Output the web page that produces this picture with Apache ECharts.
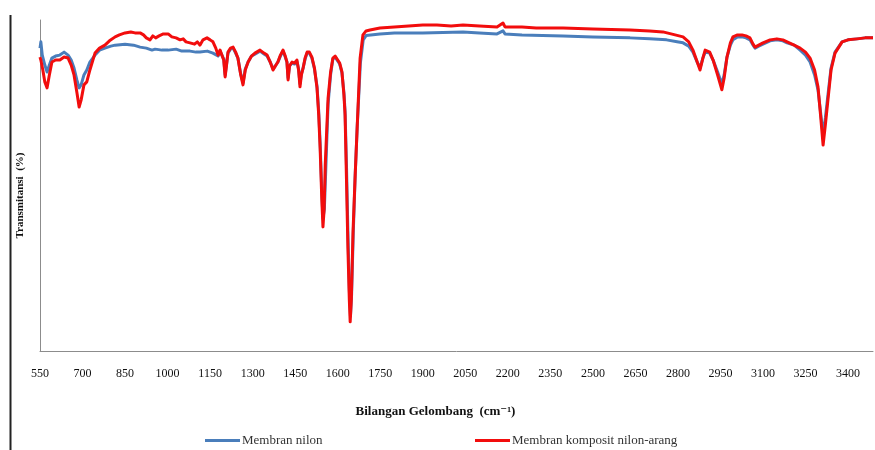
<!DOCTYPE html>
<html>
<head>
<meta charset="utf-8">
<script src="https://cdn.jsdelivr.net/npm/echarts@6/dist/echarts.min.js"></script>
<style>html,body{margin:0;padding:0;background:#fff}#c{width:875px;height:450px}</style>
</head>
<body>
<div id="c"></div>
<script>
// Tick labels (wavenumber, cm-1)
const xTicks = [550,700,850,1000,1150,1300,1450,1600,1750,1900,2050,2200,2350,2500,2650,2800,2950,3100,3250,3400];

const seriesNames = ['Membran nilon', 'Membran komposit nilon-arang'];

// Membran nilon (blue)
const wnBlue = [550,553,558,567,575,583,592,605,620,635,649,660,670,680,688,695,705,715,726,744,760,779,800,815,850,880,903,925,945,956,980,1002,1030,1050,1079,1100,1114,1140,1160,1178,
1185,1192,1198,1203,1208,1213,1222,1231,1240,1248,1258,1266,1274,1284,1296,1308,1326,1340,1351,1362,1372,1380,1389,1398,1407,1415,1421,1425,1430,1439,1448,1456,1462,1467,1472,1478,1485,1492,1500,1509,1518,1527,1533,1538,1544,1548,1553,1558,1566,1575,1583,1591,1598,1607,1615,1622,1626,1631,1636,1641,1645,1649,1655,1662,1669,1680,1690,1700,
1749,1800,1900,2042,2100,2162,2183,2190,2250,2395,2500,2631,2700,2760,2797,2818,2838,2853,2868,2878,2888,2896,2912,2924,2940,2955,2963,2973,2985,2994,3010,3026,3040,3054,3065,3072,3085,3100,3125,3149,3170,3185,3210,3231,3250,3266,3282,3294,3303,3312,3320,3329,3340,3354,3379,3400,3432,3460,3488];
const tBlue = [91.5,93.4,89.4,86.4,84.3,86.4,88.5,89.1,89.4,90.3,89.4,87.9,85.5,81.9,79.5,80.4,83.4,84.9,87.3,89.4,90.9,91.5,92.1,92.4,92.7,92.4,91.8,91.5,90.9,91.2,90.9,90.9,91.2,90.6,90.6,90.3,90.3,90.6,90.0,89.1,
90.6,91.2,88.2,83.4,86.7,90.0,91.2,91.5,90.0,88.5,83.7,81.0,85.2,87.3,89.1,89.7,90.6,89.7,89.1,87.3,85.2,86.1,87.3,89.1,90.6,88.8,87.3,82.5,86.1,87.0,86.7,87.6,85.2,80.7,83.7,85.5,88.2,90.0,90.0,88.5,85.2,80.0,72.5,63.0,48.0,40.0,43.0,55.0,74.5,83.5,88.2,88.8,88.5,86.7,84.0,78.0,72.5,56.0,36.0,18.5,10.5,17.0,36.0,54.0,68.0,87.0,94.0,95.3,
95.8,96.1,96.1,96.4,96.1,95.8,96.7,95.8,95.5,95.2,94.9,94.6,94.3,94.0,93.4,93.1,92.1,90.3,87.3,85.5,88.5,90.3,90.0,87.9,84.3,80.7,83.4,88.8,92.4,94.0,94.9,94.9,94.6,94.0,92.4,91.5,92.1,92.7,93.7,94.0,93.7,93.1,92.4,90.9,89.4,87.3,83.4,78.9,72.2,65.3,70.4,77.3,85.5,90.3,93.4,94.0,94.3,94.6,94.6];

// Membran komposit nilon-arang (red)
const wnRed = [550,553,560,567,575,583,592,605,620,635,649,660,670,680,688,695,705,715,726,744,760,779,795,815,830,850,870,885,903,915,925,938,948,958,970,985,1002,1015,1030,1044,1055,1065,1079,1095,1105,1114,1125,1139,1150,1160,1170,1178,
1185,1192,1198,1203,1208,1213,1222,1231,1240,1248,1258,1266,1274,1284,1296,1308,1326,1340,1351,1362,1372,1380,1389,1398,1407,1415,1421,1425,1430,1439,1448,1456,1462,1467,1472,1478,1485,1492,1500,1509,1518,1527,1533,1538,1544,1548,1552,1556,1566,1575,1583,1591,1598,1607,1615,1622,1626,1631,1636,1641,1644,1648,1654,1661,1668,1679,1689,1700,1714,
1749,1800,1850,1900,1950,2000,2042,2100,2162,2183,2190,2250,2300,2395,2500,2631,2700,2747,2790,2818,2838,2853,2868,2878,2888,2896,2912,2924,2940,2955,2963,2973,2985,2994,3010,3026,3040,3054,3065,3072,3085,3100,3125,3149,3170,3185,3210,3231,3250,3266,3282,3294,3303,3312,3320,3329,3340,3354,3379,3400,3432,3460,3488];
const tRed = [88.8,87.9,84.9,81.3,79.5,83.4,87.3,87.9,87.9,88.8,88.5,86.4,83.4,78.2,73.7,75.8,80.4,81.3,84.9,90.0,91.5,92.4,93.7,94.9,95.5,96.1,96.4,96.1,96.1,95.5,94.6,94.0,95.2,94.6,95.2,95.8,95.8,94.9,94.6,94.0,94.3,93.4,93.1,92.7,93.4,92.4,94.0,94.6,94.0,93.4,91.5,89.4,
90.9,91.5,87.9,82.8,86.4,90.3,91.5,91.8,90.3,88.5,83.4,80.4,84.9,87.3,89.1,90.0,90.9,90.0,89.4,87.3,84.9,86.1,87.3,89.4,90.9,89.1,87.3,81.9,86.1,87.3,87.0,87.9,84.9,79.8,83.4,85.5,88.5,90.3,90.3,88.8,85.5,79.5,71.3,61.3,45.6,37.5,42.6,56.2,76.3,84.3,88.5,89.1,88.8,87.0,84.3,77.3,71.3,51.7,31.1,15.4,8.8,15.4,36.0,51.7,66.2,88.5,95.5,96.7,97.0,
97.6,97.9,98.2,98.5,98.5,98.2,98.5,98.2,97.9,99.1,97.9,97.9,97.6,97.6,97.3,97.0,96.7,96.4,95.5,94.9,93.4,90.9,87.3,84.9,88.5,90.9,90.3,87.9,83.4,78.9,82.5,88.8,93.1,94.9,95.5,95.5,95.2,94.6,92.7,91.8,92.4,93.1,94.0,94.3,94.0,93.4,92.4,91.5,90.3,88.5,84.9,79.8,71.3,62.2,68.3,75.8,84.9,90.0,93.4,94.0,94.3,94.6,94.6];

const chart = echarts.init(document.getElementById('c'), null, {renderer: 'canvas'});
const serif = '"Liberation Serif", "DejaVu Serif", serif';

chart.setOption({
  animation: false,
  backgroundColor: '#fff',
  grid: {left: 40, right: 2, top: 20, bottom: 99, containLabel: false},
  xAxis: {
    type: 'value', min: 550, max: 3488,
    axisLine: {show: true, lineStyle: {color: '#8c8c8c', width: 1}},
    axisTick: {show: false},
    splitLine: {show: false},
    axisLabel: {customValues: xTicks, formatter: v => String(v), color: '#111', fontFamily: serif, fontSize: 12, margin: 17},
    name: 'Bilangan Gelombang  (cm\u207B\u00B9)',
    nameLocation: 'middle', nameGap: 54,
    nameTextStyle: {color: '#111', fontFamily: serif, fontSize: 13, fontWeight: 'bold', padding: [0, 42, 0, 0]}
  },
  yAxis: {
    type: 'value', min: 0, max: 100,
    axisLine: {show: true, lineStyle: {color: '#8c8c8c', width: 1}},
    axisTick: {show: false},
    axisLabel: {show: false},
    splitLine: {show: false},
    name: 'Transmitansi  (%)',
    nameLocation: 'middle', nameGap: 14, nameRotate: 90,
    nameTextStyle: {color: '#111', fontFamily: serif, fontSize: 11, fontWeight: 'bold', padding: [0, 20, 0, 0]}
  },
  legend: [
    {data: [seriesNames[0]], left: 200, top: 429, icon: 'rect', itemWidth: 35, itemHeight: 3, itemGap: 0,
     textStyle: {fontFamily: serif, fontSize: 13, color: '#333', padding: [0,0,0,-3]}},
    {data: [seriesNames[1]], left: 470, top: 429, icon: 'rect', itemWidth: 35, itemHeight: 3, itemGap: 0,
     textStyle: {fontFamily: serif, fontSize: 13, color: '#333', padding: [0,0,0,-3]}}
  ],
  graphic: [
    {type: 'line', shape: {x1: 10.5, y1: 15, x2: 10.5, y2: 450}, style: {stroke: '#222', lineWidth: 2}, silent: true}
  ],
  series: [
    {name: seriesNames[0], type: 'line', showSymbol: false, symbol: 'none', z: 2,
     lineStyle: {color: '#4a7ebb', width: 3, join: 'round'}, itemStyle: {color: '#4a7ebb'},
     data: wnBlue.map((w, i) => [w, tBlue[i]])},
    {name: seriesNames[1], type: 'line', showSymbol: false, symbol: 'none', z: 3,
     lineStyle: {color: '#f20d0d', width: 3, join: 'round'}, itemStyle: {color: '#f20d0d'},
     data: wnRed.map((w, i) => [w, tRed[i]])}
  ]
});
</script>
</body>
</html>
